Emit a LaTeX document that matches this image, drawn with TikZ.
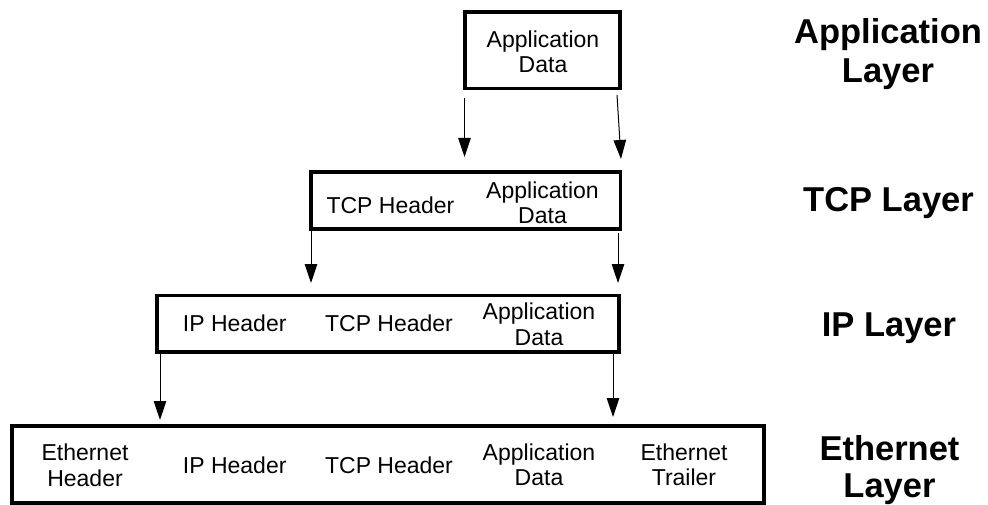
\documentclass[tikz,border=0pt]{standalone}
\usepackage{fontspec}
\setmainfont{Liberation Sans}
\usetikzlibrary{arrows.meta}
\tikzset{
  pktbox/.style={draw=black, line width=3.2pt, rectangle, inner sep=0pt},
  txt/.style={inner sep=0pt, align=center, font=\fontsize{23}{25.5}\selectfont},
  lbl/.style={inner sep=0pt, align=center, font=\bfseries\fontsize{34.5}{39.5}\selectfont},
  arr/.style={draw=black, line width=1pt, -{Triangle[width=12.5pt,length=19pt]}}
}
\begin{document}
\begin{tikzpicture}[x=1pt, y=-1pt]
\useasboundingbox (0,0) rectangle (988,505);
% boxes
\node[pktbox, minimum width=155pt, minimum height=76.5pt] (app) at (542.5,50.25) {};
\node[pktbox, minimum width=309.5pt, minimum height=57pt] (tcp) at (465.75,200.5) {};
\node[pktbox, minimum width=462pt, minimum height=56.5pt] (ip) at (388,323.75) {};
\node[pktbox, minimum width=752pt, minimum height=77pt] (eth) at (388,464.5) {};
% texts in boxes
\node[txt, anchor=north] (appdata) at (543,30.5) {Application\\Data};
\node[txt, anchor=base] (tcphdr1) at (390.5,213.3) {TCP Header};
\node[txt, anchor=north] (tcpdata) at (542.5,181.5) {Application\\Data};
\node[txt, anchor=base] (iphdr2) at (234.7,331.7) {IP Header};
\node[txt, anchor=base] (tcphdr2) at (389,331.7) {TCP Header};
\node[txt, anchor=north] (ipdata) at (539,302.7) {Application\\Data};
\node[txt, anchor=north] (ethhdr) at (85,444) {Ethernet\\Header};
\node[txt, anchor=base] (iphdr3) at (234.7,473.3) {IP Header};
\node[txt, anchor=base] (tcphdr3) at (389,473.3) {TCP Header};
\node[txt, anchor=north] (ethdata) at (539,443.5) {Application\\Data};
\node[txt, anchor=north] (ethtrl) at (684,443.5) {Ethernet\\Trailer};
% layer labels
\node[lbl, anchor=north] (lapp) at (888,18) {Application\\Layer};
\node[lbl, anchor=base] (ltcp) at (888.5,211.7) {TCP Layer};
\node[lbl, anchor=base] (lip) at (889,336) {IP Layer};
\node[lbl, anchor=north, font=\bfseries\fontsize{34.5}{37}\selectfont] (leth) at (889.5,435.3) {Ethernet\\Layer};
% arrow ends
\coordinate (a1s) at (464.5,98);  \coordinate (a1e) at (464.5,157);
\coordinate (a2s) at (617,95);    \coordinate (a2e) at (621,159);
\coordinate (a3s) at (311,229);   \coordinate (a3e) at (311,283);
\coordinate (a4s) at (618,233);   \coordinate (a4e) at (618,283);
\coordinate (a5s) at (160,352);   \coordinate (a5e) at (160,420);
\coordinate (a6s) at (613,354);   \coordinate (a6e) at (613,417);
\draw[arr] (a1s) -- (a1e);
\draw[arr] (a2s) -- (a2e);
\draw[arr] (a3s) -- (a3e);
\draw[arr] (a4s) -- (a4e);
\draw[arr] (a5s) -- (a5e);
\draw[arr] (a6s) -- (a6e);
\end{tikzpicture}
\end{document}
